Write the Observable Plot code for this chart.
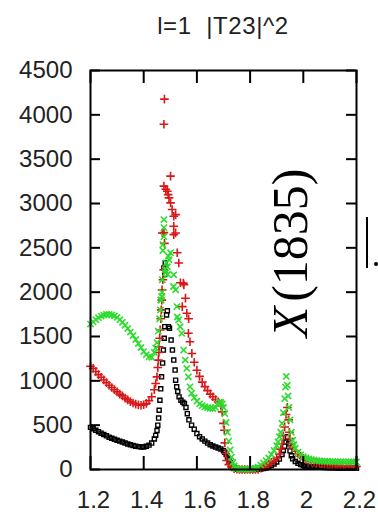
<!DOCTYPE html>
<html>
<head>
<meta charset="utf-8">
<script src="https://cdn.jsdelivr.net/npm/d3@7"></script>
<script src="https://cdn.jsdelivr.net/npm/@observablehq/plot@0.6"></script>
<style>
  html, body { margin: 0; padding: 0; background: #fff; }
  body { position: relative; width: 378px; height: 514px; overflow: hidden; }
  #title { position: absolute; left: 90px; width: 266px; top: 14px; text-align: center;
           font-family: "Liberation Sans", Arial, sans-serif; font-size: 24px; line-height: 24px;
           letter-spacing: 0.6px; color: #222; white-space: pre; }
  #chart { position: absolute; left: 0; top: 50px; }
  .frag-line { position: absolute; left: 366px; top: 217px; width: 2px; height: 51px; background: #000; }
  .frag-dot { position: absolute; left: 374px; top: 262px; width: 4px; height: 4px; border-radius: 2px; background: #000; }
</style>
</head>
<body>
<div id="title">l=1  |T23|^2</div>
<div id="chart"></div>
<div class="frag-line"></div>
<div class="frag-dot"></div>
<script>
// ---- tick labels ----
const xTicks = [1.2, 1.4, 1.6, 1.8, 2.0, 2.2];
const xTickLabels = ["1.2", "1.4", "1.6", "1.8", "2", "2.2"];
const yTicks = [0, 500, 1000, 1500, 2000, 2500, 3000, 3500, 4000, 4500];

// ---- black series (squares) ----
const blackMass = [1.20,1.21,1.22,1.23,1.24,1.25,1.26,1.27,1.28,1.29,1.30,1.31,1.32,1.33,1.34,1.35,1.36,1.37,1.38,1.39,1.40,1.41,1.42,1.43,1.44,
  1.445,1.45,1.453,1.456,1.458,1.461,1.464,1.467,1.471,1.474,1.477,1.479,1.476,1.481,1.479,1.486,1.489,1.493,1.497,1.503,1.508,1.513,1.518,1.520,1.524,1.528,1.533,1.540,1.547,1.553,1.559,1.564,1.570,
  1.58,1.59,1.60,1.61,1.62,1.63,1.64,1.65,1.66,1.67,1.68,1.69,1.70,1.705,1.71,1.715,1.72,1.725,1.73,1.735,1.74,1.75,1.76,1.77,1.78,1.79,1.80,1.81,1.82,1.83,1.84,1.85,1.86,1.87,1.88,1.89,1.90,1.91,1.92,1.925,1.93,1.935,1.94,1.945,1.95,1.955,1.96,1.97,1.98,1.99,
  2.00,2.01,2.02,2.03,2.04,2.05,2.06,2.07,2.08,2.09,2.10,2.11,2.12,2.13,2.14,2.15,2.16,2.17,2.18,2.19,2.20];
const blackValue = [475,460,442,427,410,395,380,365,352,340,330,320,310,298,288,278,270,263,258,254,255,262,275,298,345,
  385,440,500,580,668,781,910,1045,1200,1347,1480,1611,2272,2328,2200,1743,1790,1611,1592,1460,1347,1234,1121,1007,932,880,819,781,760,744,700,630,560,
  500,455,405,370,345,320,298,280,265,253,242,230,212,195,170,140,110,80,50,30,15,3,0,0,0,0,0,0,0,2,5,10,18,30,45,62,85,118,170,215,260,310,370,290,210,155,120,90,70,55,
  45,40,35,32,30,28,26,25,23,22,21,20,19,18,17,17,16,15,15,14,14];

// ---- red series (plus) ----
const redMass = [1.20,1.21,1.22,1.23,1.24,1.25,1.26,1.27,1.28,1.29,1.30,1.31,1.32,1.33,1.34,1.35,1.36,1.37,1.38,1.39,1.40,1.41,1.42,1.43,1.44,
  1.445,1.45,1.453,1.455,1.457,1.458,1.460,1.462,1.464,1.466,1.468,1.469,1.472,1.475,1.470,1.476,1.478,1.476,1.476,1.478,1.483,1.489,1.492,1.495,1.501,1.501,1.507,1.513,1.520,1.513,1.520,1.513,1.526,1.532,1.538,1.549,1.551,1.545,1.557,1.562,1.569,1.568,1.574,1.581,
  1.59,1.60,1.61,1.62,1.63,1.64,1.65,1.66,1.67,1.68,1.69,1.695,1.70,1.703,1.705,1.708,1.712,1.72,1.73,1.74,1.75,1.76,1.77,1.78,1.79,1.80,1.81,1.82,1.83,1.84,1.85,1.86,1.87,1.88,1.89,1.90,1.91,1.915,1.92,1.925,1.93,1.935,1.94,1.945,1.948,1.95,1.955,1.96,1.97,1.98,1.99,
  2.00,2.01,2.02,2.03,2.04,2.05,2.06,2.07,2.08,2.09,2.10,2.11,2.12,2.13,2.14,2.15,2.16,2.17,2.18,2.19,2.20];
const redValue = [1165,1140,1105,1070,1040,1010,980,950,925,900,875,850,830,805,785,765,750,738,728,725,730,745,775,820,900,
  970,1045,1150,1234,1320,1385,1480,1574,1700,1800,1910,2026,2140,2253,2668,2672,2550,3196,3894,4177,3160,3139,3100,3064,3007,3309,2932,2856,2875,2743,2668,2649,2445,2329,2106,2102,2083,1837,1932,1762,1700,1536,1441,1309,
  1210,1120,1050,985,935,890,850,820,790,762,720,650,520,442,300,180,102,55,30,10,3,0,0,0,0,0,0,0,0,15,30,45,60,80,100,130,175,230,290,380,480,620,700,560,420,350,290,250,205,175,150,
  125,110,100,90,83,77,70,65,60,57,54,50,47,44,42,40,38,36,35,34,33];

// ---- green series (times) ----
const greenMass = [1.20,1.21,1.22,1.23,1.24,1.25,1.26,1.27,1.28,1.29,1.30,1.31,1.32,1.33,1.34,1.35,1.36,1.37,1.38,1.39,1.40,1.41,1.42,1.43,1.44,
  1.445,1.45,1.455,1.46,1.463,1.466,1.469,1.476,1.476,1.476,1.472,1.472,1.501,1.495,1.489,1.482,1.513,1.470,1.520,1.464,1.526,1.481,1.493,1.468,1.485,1.490,
  1.512,1.525,1.531,1.537,1.543,1.550,1.556,1.562,1.568,1.574,
  1.58,1.59,1.60,1.61,1.62,1.63,1.64,1.65,1.66,1.67,1.68,1.685,1.69,1.695,1.70,1.705,1.71,1.715,1.72,1.725,1.73,1.735,1.74,1.745,1.75,1.76,1.77,1.78,1.79,1.80,1.81,1.82,1.83,1.84,1.85,1.86,1.87,1.88,1.89,1.90,1.905,1.91,1.915,1.92,1.925,1.93,1.933,1.936,1.94,1.943,1.946,1.95,1.955,1.96,1.965,1.97,1.98,1.99,
  2.00,2.01,2.02,2.03,2.04,2.05,2.06,2.07,2.08,2.09,2.10,2.11,2.12,2.13,2.14,2.15,2.16,2.17,2.18,2.19,2.20];
const greenValue = [1640,1665,1690,1712,1730,1742,1750,1750,1745,1732,1715,1690,1660,1627,1590,1550,1510,1465,1420,1375,1330,1295,1270,1265,1320,
  1370,1430,1560,1700,1800,1910,2000,2819,2728,2626,2536,2470,2445,2366,2287,2219,2196,2140,2026,1913,1720,2253,2404,1951,2330,2200,
  2064,1838,1687,1610,1536,1347,1234,1140,1045,932,
  860,810,770,740,720,706,698,690,688,700,735,762,755,740,700,630,530,420,320,220,140,80,40,15,8,5,5,5,5,5,8,15,26,50,75,100,130,170,215,270,310,370,420,520,640,800,930,1050,950,830,700,560,420,330,280,240,195,165,
  145,130,120,112,105,100,97,95,93,91,90,89,88,88,87,87,86,86,85,85,85];

// ---- annotation ----
const annotationText = ["X", "(1835)"];
const annotationMass = [1.953, 1.953];
const annotationValue = [1665, 2643];

const pts = (xs, ys) => xs.map((x, i) => ({x, y: ys[i]}));
const black = pts(blackMass, blackValue);
const red = pts(redMass, redValue);
const green = pts(greenMass, greenValue);
const ann = annotationText.map((t, i) => ({t, x: annotationMass[i], y: annotationValue[i]}));

const W = 378, H = 464, mL = 90, mR = 22, mT = 20, mB = 45;
const innerW = W - mL - mR, innerH = H - mT - mB;

const chart = Plot.plot({
  width: W, height: H,
  marginLeft: mL, marginRight: mR, marginTop: mT, marginBottom: mB,
  style: {fontFamily: "'Liberation Sans', Arial, sans-serif", fontSize: "24px", background: "white", color: "#222"},
  x: {domain: [1.2, 2.2]},
  y: {domain: [0, 4500]},
  marks: [
    Plot.dot(black, {x: "x", y: "y", symbol: "square", r: 2.3, stroke: "#000", strokeWidth: 1.4, fill: "none"}),
    Plot.dot(red, {x: "x", y: "y", symbol: "plus", r: 2.9, stroke: "#d81818", strokeWidth: 1.6}),
    Plot.dot(green, {x: "x", y: "y", symbol: "times", r: 2.9, stroke: "#2cdc2c", strokeWidth: 1.6}),
    Plot.frame({stroke: "#000", strokeWidth: 2}),
    Plot.tickY(yTicks, {y: d => d, insetRight: innerW - 10, stroke: "#000", strokeWidth: 2}),
    Plot.tickY(yTicks, {y: d => d, insetLeft: innerW - 10, stroke: "#000", strokeWidth: 2}),
    Plot.tickX(xTicks, {x: d => d, insetTop: innerH - 13, stroke: "#000", strokeWidth: 2}),
    Plot.tickX(xTicks, {x: d => d, insetBottom: innerH - 13, stroke: "#000", strokeWidth: 2}),
    Plot.axisY({ticks: yTicks, tickSize: 0, tickPadding: 18, fontSize: 24, label: null, tickFormat: d => String(d)}),
    Plot.axisX({ticks: xTicks, tickSize: 0, tickPadding: 21, fontSize: 24, label: null, dx: 3,
                tickFormat: d => xTickLabels[xTicks.findIndex(v => Math.abs(v - d) < 1e-9)]}),
    Plot.text(ann.filter(d => d.t === "X"), {x: "x", y: "y", text: "t", rotate: -90, fontSize: 50,
      fontFamily: "'Liberation Serif', 'Times New Roman', serif", fontStyle: "italic", fill: "#000",
      textAnchor: "middle", lineAnchor: "middle"}),
    Plot.text(ann.filter(d => d.t !== "X"), {x: "x", y: "y", text: "t", rotate: -90, fontSize: 50,
      fontFamily: "'Liberation Serif', 'Times New Roman', serif", fill: "#000",
      textAnchor: "middle", lineAnchor: "middle"})
  ]
});
document.getElementById("chart").appendChild(chart);
</script>
</body>
</html>
